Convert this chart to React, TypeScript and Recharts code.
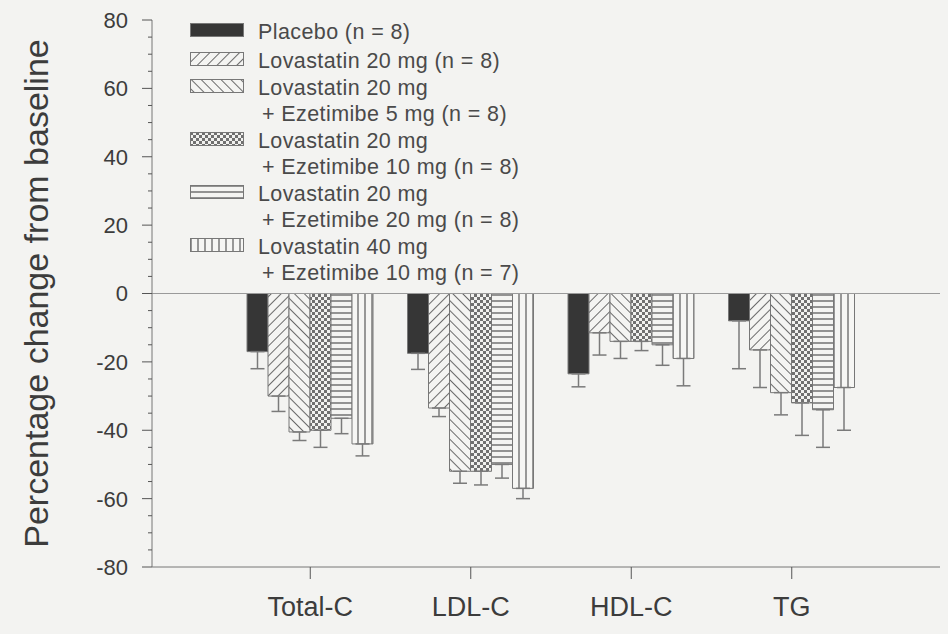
import React from 'react';
import { BarChart, Bar, XAxis, YAxis, ErrorBar, ReferenceLine, Label } from 'recharts';

const categories = ['Total-C', 'LDL-C', 'HDL-C', 'TG'];

const placebo = [-17, -17.5, -23.5, -8];
const placeboErr = [5, 4.7, 3.8, 14];
const lova20 = [-30, -33.5, -11.5, -16.5];
const lova20Err = [4.5, 2.5, 6.5, 11];
const lova20eze5 = [-40.5, -52, -14, -29];
const lova20eze5Err = [2.5, 3.5, 5, 6.5];
const lova20eze10 = [-40, -52, -14, -32];
const lova20eze10Err = [5, 4, 2.7, 9.5];
const lova20eze20 = [-36.5, -50, -15, -34];
const lova20eze20Err = [4.5, 4, 6, 11];
const lova40eze10 = [-44, -57, -19, -27.5];
const lova40eze10Err = [3.5, 3, 8, 12.5];

const seriesKeys = ['placebo', 'l20', 'l20e5', 'l20e10', 'l20e20', 'l40e10'];
const seriesLabels = [
  ['Placebo (n = 8)'],
  ['Lovastatin 20 mg (n = 8)'],
  ['Lovastatin 20 mg', '+ Ezetimibe 5 mg (n = 8)'],
  ['Lovastatin 20 mg', '+ Ezetimibe 10 mg (n = 8)'],
  ['Lovastatin 20 mg', '+ Ezetimibe 20 mg (n = 8)'],
  ['Lovastatin 40 mg', '+ Ezetimibe 10 mg (n = 7)'],
];
const seriesValues = [placebo, lova20, lova20eze5, lova20eze10, lova20eze20, lova40eze10];
const seriesErrors = [placeboErr, lova20Err, lova20eze5Err, lova20eze10Err, lova20eze20Err, lova40eze10Err];

// labelled every 20, small marks every 5
const yTicks = [
  -80, -75, -70, -65, -60, -55, -50, -45, -40, -35, -30, -25, -20, -15, -10, -5, 0,
  5, 10, 15, 20, 25, 30, 35, 40, 45, 50, 55, 60, 65, 70, 75, 80,
];

const fills = [
  '#363636',
  'url(#pat-fwd)',
  'url(#pat-back)',
  'url(#pat-check)',
  'url(#pat-horiz)',
  'url(#pat-vert)',
];

const data = categories.map((name, i) => {
  const row: Record<string, any> = { name };
  seriesKeys.forEach((k, s) => {
    row[k] = seriesValues[s][i];
    row[k + 'Err'] = [seriesErrors[s][i], 0];
  });
  return row;
});

const bg = '#f3f3f1';
const ink = '#3c3c3c';
const font = 'Liberation Sans, Arial, sans-serif';
const TICK_SIZE = 10;
const TICK_MARGIN = 14;

function Patterns() {
  return (
    <defs>
      <pattern id="pat-fwd" width="7" height="7" patternUnits="userSpaceOnUse" patternTransform="rotate(45)">
        <rect width="7" height="7" fill="#f4f4f2" />
        <line x1="0" y1="0" x2="0" y2="7" stroke="#6a6a6a" strokeWidth="2" />
      </pattern>
      <pattern id="pat-back" width="7" height="7" patternUnits="userSpaceOnUse" patternTransform="rotate(-45)">
        <rect width="7" height="7" fill="#f4f4f2" />
        <line x1="0" y1="0" x2="0" y2="7" stroke="#6a6a6a" strokeWidth="2" />
      </pattern>
      <pattern id="pat-check" width="6" height="6" patternUnits="userSpaceOnUse">
        <rect width="6" height="6" fill="#f1f1ef" />
        <rect width="3" height="3" fill="#707070" />
        <rect x="3" y="3" width="3" height="3" fill="#707070" />
      </pattern>
      <pattern id="pat-horiz" width="6" height="6" patternUnits="userSpaceOnUse">
        <rect width="6" height="6" fill="#f4f4f2" />
        <line x1="0" y1="1" x2="6" y2="1" stroke="#7a7a7a" strokeWidth="1.6" />
      </pattern>
      <pattern id="pat-vert" width="7" height="7" patternUnits="userSpaceOnUse">
        <rect width="7" height="7" fill="#f6f6f4" />
        <line x1="1" y1="0" x2="1" y2="7" stroke="#808080" strokeWidth="1.6" />
      </pattern>
    </defs>
  );
}

function YTick(props: any) {
  const { x, y, payload } = props;
  const v = payload.value;
  const major = v % 20 === 0;
  const axisX = x + TICK_SIZE + TICK_MARGIN;
  return (
    <g>
      <line x1={axisX - (major ? TICK_SIZE : 4)} x2={axisX} y1={y} y2={y} stroke="#555" strokeWidth={1} />
      {major && (
        <text x={x} y={y} dy="0.36em" textAnchor="end" fill={ink} fontSize={22} fontFamily={font}>
          {v}
        </text>
      )}
    </g>
  );
}

function LegendBox() {
  return (
    <div
      style={{
        position: 'absolute',
        left: 190,
        top: 19,
        fontFamily: font,
        fontSize: 21.5,
        letterSpacing: 0.4,
        color: '#4a4a4a',
        lineHeight: '26px',
      }}
    >
      {seriesLabels.map((lines, s) => (
        <div key={s} style={{ display: 'flex', alignItems: 'flex-start', marginBottom: s === 0 ? 3 : 1 }}>
          <svg width={54} height={14} style={{ marginTop: 4, marginRight: 14, flex: 'none' }}>
            <rect x={0.5} y={0.5} width={53} height={13} fill={fills[s]} stroke="#777" />
          </svg>
          <div>
            {lines.map((t, j) => (
              <div key={j} style={{ paddingLeft: j > 0 ? 4 : 0 }}>{t}</div>
            ))}
          </div>
        </div>
      ))}
    </div>
  );
}

export default function App() {
  return (
    <div style={{ position: 'absolute', left: 0, top: 0, width: 948, height: 634, background: bg }}>
      <BarChart
        width={948}
        height={634}
        data={data}
        margin={{ top: 20, right: 8, left: 0, bottom: 0 }}
        barGap={0}
        barSize={21}
      >
        <Patterns />
        <XAxis
          dataKey="name"
          height={67}
          padding={{ left: 78, right: 68 }}
          axisLine={{ stroke: '#777' }}
          tickLine={{ stroke: '#555' }}
          tickSize={12}
          tickMargin={18}
          tick={{ fill: ink, fontSize: 27, fontFamily: font }}
        />
        <YAxis
          width={152}
          domain={[-80, 80]}
          ticks={yTicks}
          interval={0}
          allowDataOverflow
          axisLine={{ stroke: '#777' }}
          tickLine={false}
          tickSize={TICK_SIZE}
          tickMargin={TICK_MARGIN}
          tick={<YTick />}
        >
          <Label
            value="Percentage change from baseline"
            angle={-90}
            position="insideLeft"
            offset={36}
            style={{ fill: ink, fontSize: 34, fontFamily: font, textAnchor: 'middle' }}
          />
        </YAxis>
        <ReferenceLine y={0} stroke="#9a9a9a" strokeWidth={1} />
        {seriesKeys.map((k, s) => (
          <Bar key={k} dataKey={k} fill={fills[s]} stroke="#777" strokeWidth={1} isAnimationActive={false}>
            <ErrorBar dataKey={k + 'Err'} width={7} stroke="#7a7a7a" strokeWidth={1.5} direction="y" />
          </Bar>
        ))}
      </BarChart>
      <LegendBox />
    </div>
  );
}
